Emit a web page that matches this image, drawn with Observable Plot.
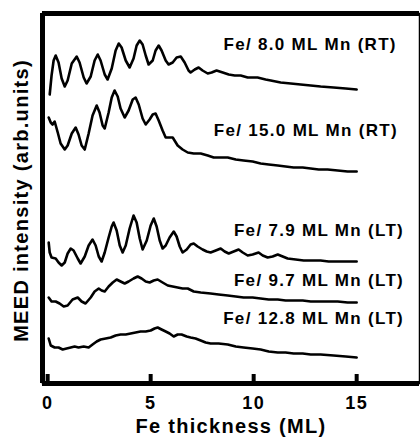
<!DOCTYPE html>
<html><head><meta charset="utf-8">
<script src="https://cdn.jsdelivr.net/npm/d3@7"></script>
<script src="https://cdn.jsdelivr.net/npm/@observablehq/plot@0.6"></script>
<style>
body{margin:0;background:#fff;overflow:hidden;}
#chart svg{font-family:"Liberation Sans",Arial,sans-serif;font-weight:bold;background:#fff;}
#chart svg text{letter-spacing:1.3px;}
#chart svg g[aria-label="xlabel"] text{letter-spacing:1.8px;}
#chart svg g[aria-label="ylabel"] text{letter-spacing:2.1px;}
</style></head><body><div id="chart"></div>
<script>
// Series labels
const seriesNames = ["Fe/ 8.0 ML Mn (RT)", "Fe/ 15.0 ML Mn (RT)", "Fe/ 7.9 ML Mn (LT)", "Fe/ 9.7 ML Mn (LT)", "Fe/ 12.8 ML Mn (LT)"];

// Fe/ 8.0 ML Mn (RT)
const rt80_x = [0.10,0.19,0.29,0.39,0.53,0.68,0.83,0.97,1.17,1.41,1.55,1.75,1.89,2.09,2.28,2.43,2.57,2.77,2.91,3.11,3.30,3.45,3.59,3.79,3.98,4.17,4.32,4.47,4.61,4.76,4.90,5.10,5.24,5.39,5.53,5.73,5.87,6.07,6.26,6.46,6.65,6.84,6.94,7.14,7.33,7.52,7.77,7.96,8.20,8.50,8.79,9.08,9.37,9.71,10.19,10.58,10.83,11.31,11.80,12.28,12.77,13.25,13.88,14.47,15.0];
const rt80_y = [289,308,323,328,321,305,297,303,320,327,321,306,300,307,323,329,323,309,304,315,333,340,336,323,316,325,338,343,339,328,319,323,333,338,333,323,319,321,326,327,321,313,311,314,316,313,310,311,313,311,309,308,308,306,306,304,303,301,300,299,298,297,296,295,294];

// Fe/ 15.0 ML Mn (RT)
const rt150_x = [0.05,0.15,0.24,0.34,0.49,0.63,0.83,0.97,1.17,1.36,1.50,1.65,1.80,1.99,2.18,2.38,2.52,2.67,2.77,2.96,3.11,3.25,3.40,3.54,3.74,3.93,4.13,4.27,4.42,4.61,4.76,4.95,5.10,5.24,5.39,5.58,5.73,5.87,6.07,6.31,6.55,6.80,7.09,7.43,7.77,8.06,8.40,8.74,9.13,9.51,9.95,10.34,10.73,11.17,11.55,11.94,12.38,12.77,13.16,13.59,14.08,14.56,15.0];
const rt150_y = [266,261,259,262,251,240,234,238,250,256,249,238,234,250,268,278,271,258,255,271,286,293,287,275,266,273,284,286,279,265,259,264,269,270,263,253,246,246,246,238,234,231,230,230,228,226,226,226,224,223,222,220,219,218,217,216,216,215,214,214,213,212,212];

// Fe/ 7.9 ML Mn (LT)
const lt79_x = [0.05,0.10,0.19,0.39,0.53,0.68,0.83,0.97,1.12,1.26,1.46,1.60,1.80,1.99,2.18,2.33,2.48,2.62,2.77,2.96,3.11,3.20,3.35,3.50,3.64,3.79,3.98,4.17,4.32,4.47,4.61,4.81,5.00,5.15,5.29,5.44,5.58,5.73,5.92,6.12,6.26,6.41,6.55,6.75,6.94,7.09,7.28,7.52,7.72,7.91,8.16,8.40,8.59,8.79,9.03,9.27,9.47,9.71,9.95,10.24,10.44,10.68,10.92,11.17,11.41,11.65,12.04,12.43,12.86,13.25,13.64,14.08,14.56,15.0];
const lt79_y = [141,131,126,125,121,118,121,130,135,133,125,120,127,138,144,138,127,122,131,146,157,161,153,138,131,138,155,168,161,145,134,143,158,165,157,143,135,138,146,152,147,137,131,134,139,140,137,134,132,131,133,135,132,130,132,134,131,128,129,131,128,126,127,129,127,125,124,123,123,123,122,122,122,122];

// Fe/ 9.7 ML Mn (LT)
const lt97_x = [0.05,0.19,0.39,0.58,0.78,0.97,1.21,1.46,1.65,1.84,2.09,2.28,2.48,2.62,2.77,2.96,3.16,3.35,3.54,3.74,3.93,4.17,4.37,4.56,4.76,4.95,5.15,5.34,5.58,5.83,6.07,6.31,6.55,6.80,7.09,7.43,7.91,8.30,8.74,9.13,9.51,9.95,10.34,10.73,11.17,11.55,11.94,12.38,12.77,13.16,13.59,14.08,14.56,15.0];
const lt97_y = [86,82,82,80,77,78,84,86,82,80,86,92,95,93,92,97,101,104,102,100,102,105,107,105,102,101,103,104,101,98,97,96,95,95,92,91,90,89,88,87,86,86,85,84,84,83,83,83,82,82,82,82,81,81];

// Fe/ 12.8 ML Mn (LT)
const lt128_x = [0.05,0.15,0.34,0.53,0.73,0.92,1.12,1.31,1.50,1.75,1.99,2.18,2.38,2.57,2.82,3.06,3.30,3.54,3.79,4.03,4.27,4.51,4.76,5.00,5.19,5.34,5.53,5.73,5.92,6.12,6.31,6.50,6.75,6.94,7.18,7.43,7.67,7.91,8.30,8.74,9.13,9.51,9.95,10.34,10.73,11.17,11.55,11.94,12.38,12.77,13.25,13.88,14.47,15.0];
const lt128_y = [45,38,36,36,34,35,36,37,36,37,36,39,42,44,45,46,48,49,49,50,51,52,52,53,55,56,54,52,50,47,49,49,47,46,45,43,41,40,40,39,37,36,35,34,32,31,31,30,30,29,29,28,27,26];

// Label anchor points (data units)
const labelX = [16.95, 17.0, 17.3, 17.3, 17.3];
const labelY = [339, 253, 153, 103, 65];

// Axis
const xTicks = [0, 5, 10, 15];
const xDomain = [-0.25, 18.05];
const yDomain = [0, 370];
const xLabel = "Fe thickness (ML)";
const yLabel = "MEED intensity (arb.units)";

const xs = [rt80_x, rt150_x, lt79_x, lt97_x, lt128_x];
const ys = [rt80_y, rt150_y, lt79_y, lt97_y, lt128_y];
const data = seriesNames.flatMap((name, i) => xs[i].map((x, j) => ({name, x, y: ys[i][j]})));
const labels = seriesNames.map((name, i) => ({name, x: labelX[i], y: labelY[i]}));

const chart = Plot.plot({
  width: 420,
  height: 437,
  marginLeft: 42,
  marginRight: 1,
  marginTop: 13,
  marginBottom: 54,
  x: {domain: xDomain},
  y: {domain: yDomain},
  marks: [
    Plot.line(data, {x: "x", y: "y", z: "name", stroke: "black", strokeWidth: 2.6, strokeLinejoin: "round"}),
    Plot.axisY({ticks: [], label: null}),
    Plot.text(xTicks, {x: d => d, frameAnchor: "bottom", lineAnchor: "middle", dy: 20, text: d => String(d), fontSize: 18, fontWeight: "bold", fill: "black"}),
    Plot.text(labels, {x: "x", y: "y", text: "name", textAnchor: "end", fontSize: 17, fontWeight: "bold", fill: "black"}),
    Plot.text([xLabel], {ariaLabel: "xlabel", frameAnchor: "bottom", lineAnchor: "middle", dy: 43, text: d => d, fontSize: 20, fontWeight: "bold", fill: "black"}),
    Plot.text([yLabel], {ariaLabel: "ylabel", frameAnchor: "left", textAnchor: "middle", lineAnchor: "middle", dx: -21, dy: 2, rotate: -90, text: d => d, fontSize: 20, fontWeight: "bold", fill: "black"}),
    Plot.frame({stroke: "black", strokeWidth: 1.5}),
    Plot.ruleY([yDomain[0]], {stroke: "black", strokeWidth: 5}),
    Plot.ruleY([yDomain[1]], {stroke: "black", strokeWidth: 5}),
    Plot.ruleX([xDomain[0]], {stroke: "black", strokeWidth: 5}),
    Plot.axisX({ticks: xTicks, tickSize: -9, strokeWidth: 4, stroke: "black", text: null, label: null})
  ]
});
document.getElementById("chart").appendChild(chart);
</script></body></html>
